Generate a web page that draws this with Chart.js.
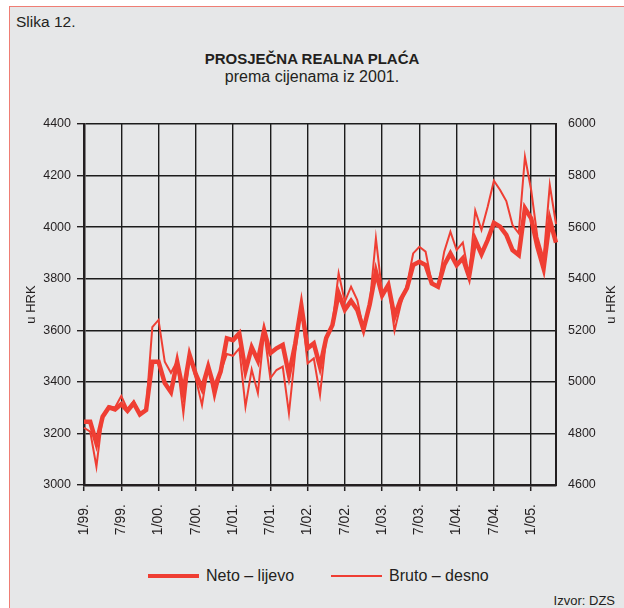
<!DOCTYPE html>
<html>
<head>
<meta charset="utf-8">
<script src="https://cdn.jsdelivr.net/npm/chart.js@4.4.1/dist/chart.umd.min.js"></script>
<style>
  html, body { margin: 0; padding: 0; background: #fff; }
  body { width: 624px; height: 608px; position: relative; overflow: hidden;
         font-family: "Liberation Sans", Arial, Helvetica, sans-serif; color: #231f20; }
  #frame { position: absolute; left: 9px; top: 6px; width: 640px; height: 620px;
           background: #e6e7e8; border-left: 1px solid #ef7d74; border-top: 1px solid #ef7d74; }
  .txt { position: absolute; white-space: nowrap; line-height: 1; }
  #slika { left: 16px; top: 14px; font-size: 15.5px; }
  #title { left: 0; width: 624px; text-align: center; top: 51px; font-size: 15px; font-weight: bold; }
  #subtitle { left: 0; width: 624px; text-align: center; top: 69px; font-size: 16px; }
  #izvor { right: 9px; top: 594px; font-size: 13px; }
  #legend { position: absolute; left: 148px; top: 567px; height: 18px; display: flex; align-items: center; font-size: 16px; }
  .item { display: flex; align-items: center; margin-right: 37px; }
  .swatch { width: 51px; margin-right: 7px; }
  canvas { position: absolute; left: 0; top: 0; }
</style>
</head>
<body>
<div id="frame"></div>
<div class="txt" id="slika">Slika 12.</div>
<div class="txt" id="title">PROSJEČNA REALNA PLAĆA</div>
<div class="txt" id="subtitle">prema cijenama iz 2001.</div>
<div id="legend"></div>
<div class="txt" id="izvor">Izvor: DZS</div>
<canvas id="chart" width="624" height="608"></canvas>
<script>
// --- Data ---
const months = [
  '1/99.', '2/99.', '3/99.', '4/99.', '5/99.', '6/99.', '7/99.', '8/99.', '9/99.', '10/99.', '11/99.', '12/99.',
  '1/00.', '2/00.', '3/00.', '4/00.', '5/00.', '6/00.', '7/00.', '8/00.', '9/00.', '10/00.', '11/00.', '12/00.',
  '1/01.', '2/01.', '3/01.', '4/01.', '5/01.', '6/01.', '7/01.', '8/01.', '9/01.', '10/01.', '11/01.', '12/01.',
  '1/02.', '2/02.', '3/02.', '4/02.', '5/02.', '6/02.', '7/02.', '8/02.', '9/02.', '10/02.', '11/02.', '12/02.',
  '1/03.', '2/03.', '3/03.', '4/03.', '5/03.', '6/03.', '7/03.', '8/03.', '9/03.', '10/03.', '11/03.', '12/03.',
  '1/04.', '2/04.', '3/04.', '4/04.', '5/04.', '6/04.', '7/04.', '8/04.', '9/04.', '10/04.', '11/04.', '12/04.',
  '1/05.', '2/05.', '3/05.', '4/05.', '5/05.'
];

const tickLabels = ['1/99.', '7/99.', '1/00.', '7/00.', '1/01.', '7/01.', '1/02.',
                    '7/02.', '1/03.', '7/03.', '1/04.', '7/04.', '1/05.'];

// Neto, left axis (HRK)
const neto = [
  3245, 3245, 3162, 3265, 3301, 3293, 3314, 3288, 3317, 3274, 3291, 3478,
  3478, 3395, 3360, 3478, 3360, 3504, 3430, 3375, 3459, 3375, 3440, 3569,
  3562, 3588, 3443, 3534, 3482, 3600, 3511, 3530, 3543, 3427, 3546, 3695,
  3530, 3549, 3459, 3570, 3620, 3743, 3680, 3714, 3679, 3603, 3700, 3827,
  3735, 3776, 3653, 3720, 3763, 3853, 3866, 3853, 3782, 3769, 3853, 3898,
  3853, 3879, 3808, 3950, 3895, 3950, 4017, 4002, 3970, 3911, 3892, 4073,
  4034, 3924, 3840, 4028, 3940
];

// Bruto, right axis (HRK)
const bruto = [
  4822, 4807, 4671, 4870, 4906, 4901, 4945, 4893, 4925, 4876, 4893, 5212,
  5240, 5078, 5035, 5080, 4878, 5104, 5013, 4910, 5059, 4936, 5037, 5108,
  5101, 5130, 4904, 5048, 4956, 5197, 5014, 5046, 5059, 4878, 5110, 5298,
  5072, 5091, 4949, 5170, 5225, 5421, 5311, 5369, 5317, 5203, 5300, 5557,
  5345, 5376, 5198, 5300, 5376, 5498, 5524, 5505, 5382, 5369, 5505, 5582,
  5511, 5540, 5408, 5664, 5589, 5679, 5780, 5744, 5701, 5608, 5576, 5873,
  5744, 5563, 5479, 5763, 5612
];

const leftTicks = { min: 3000, max: 4400, step: 200 };
const rightTicks = { min: 4600, max: 6000, step: 200 };

// --- Styling ---
const RED = '#ef3e33';
const INK = '#231f20';
const GRID = '#1c1c1c';
const FONT = '"Liberation Sans", Arial, Helvetica, sans-serif';

const isLabelled = i => tickLabels.includes(months[i]);
const plain = v => String(v);   // no thousands separator

// axis titles "u HRK" on both sides, both reading upwards
const axisTitles = {
  id: 'axisTitles',
  afterDraw(chart) {
    const { ctx, chartArea } = chart;
    const midY = (chartArea.top + chartArea.bottom) / 2;
    ctx.save();
    ctx.fillStyle = INK;
    ctx.font = '13px ' + FONT;
    ctx.textAlign = 'center';
    ctx.textBaseline = 'middle';
    [31, 611].forEach(x => {
      ctx.save();
      ctx.translate(x, midY);
      ctx.rotate(-Math.PI / 2);
      ctx.fillText('u HRK', 0, 0);
      ctx.restore();
    });
    ctx.restore();
  }
};

const chart = new Chart(document.getElementById('chart'), {
  type: 'line',
  data: {
    labels: months,
    datasets: [
      {
        label: 'Neto – lijevo',
        data: neto,
        yAxisID: 'y',
        borderColor: RED,
        borderWidth: 4.5,
        pointRadius: 0,
        tension: 0
      },
      {
        label: 'Bruto – desno',
        data: bruto,
        yAxisID: 'y1',
        borderColor: RED,
        borderWidth: 2,
        pointRadius: 0,
        tension: 0
      }
    ]
  },
  options: {
    responsive: false,
    animation: false,
    devicePixelRatio: 1,
    layout: { padding: { top: 124, left: 0, right: 0, bottom: 0 } },
    plugins: {
      legend: { display: false },
      title: { display: false },
      tooltip: { enabled: false }
    },
    scales: {
      x: {
        type: 'category',
        offset: false,
        afterFit: s => { s.height = 123; },
        border: { color: INK, width: 2.5 },
        grid: {
          color: c => isLabelled(c.index) ? GRID : 'rgba(0,0,0,0)',
          tickColor: c => isLabelled(c.index) ? INK : 'rgba(0,0,0,0)',
          lineWidth: 1.4,
          tickLength: 6,
          tickWidth: 1.5
        },
        ticks: {
          autoSkip: false,
          minRotation: 90,
          maxRotation: 90,
          padding: 13,
          color: INK,
          font: { family: FONT, size: 14 },
          callback: (v, i) => isLabelled(i) ? months[i] : ''
        }
      },
      y: {
        position: 'left',
        min: leftTicks.min,
        max: leftTicks.max,
        afterFit: s => { s.width = 84; },
        border: { color: INK, width: 2.5 },
        grid: { color: GRID, lineWidth: 1.4, tickLength: 7, tickColor: INK },
        ticks: {
          stepSize: leftTicks.step,
          padding: 6,
          color: INK,
          font: { family: FONT, size: 12.5 },
          callback: plain
        }
      },
      y1: {
        position: 'right',
        min: rightTicks.min,
        max: rightTicks.max,
        afterFit: s => { s.width = 68; },
        border: { color: INK, width: 2 },
        grid: { drawOnChartArea: false, drawTicks: false },
        ticks: {
          stepSize: rightTicks.step,
          padding: 12,
          color: INK,
          font: { family: FONT, size: 12.5 },
          callback: plain
        }
      }
    }
  },
  plugins: [axisTitles]
});

// --- HTML legend built from the datasets ---
const legendEl = document.getElementById('legend');
chart.data.datasets.forEach(ds => {
  const item = document.createElement('div');
  item.className = 'item';
  const sw = document.createElement('div');
  sw.className = 'swatch';
  sw.style.height = ds.borderWidth + 'px';
  sw.style.background = ds.borderColor;
  const label = document.createElement('span');
  label.textContent = ds.label;
  item.appendChild(sw);
  item.appendChild(label);
  legendEl.appendChild(item);
});
</script>
</body>
</html>
